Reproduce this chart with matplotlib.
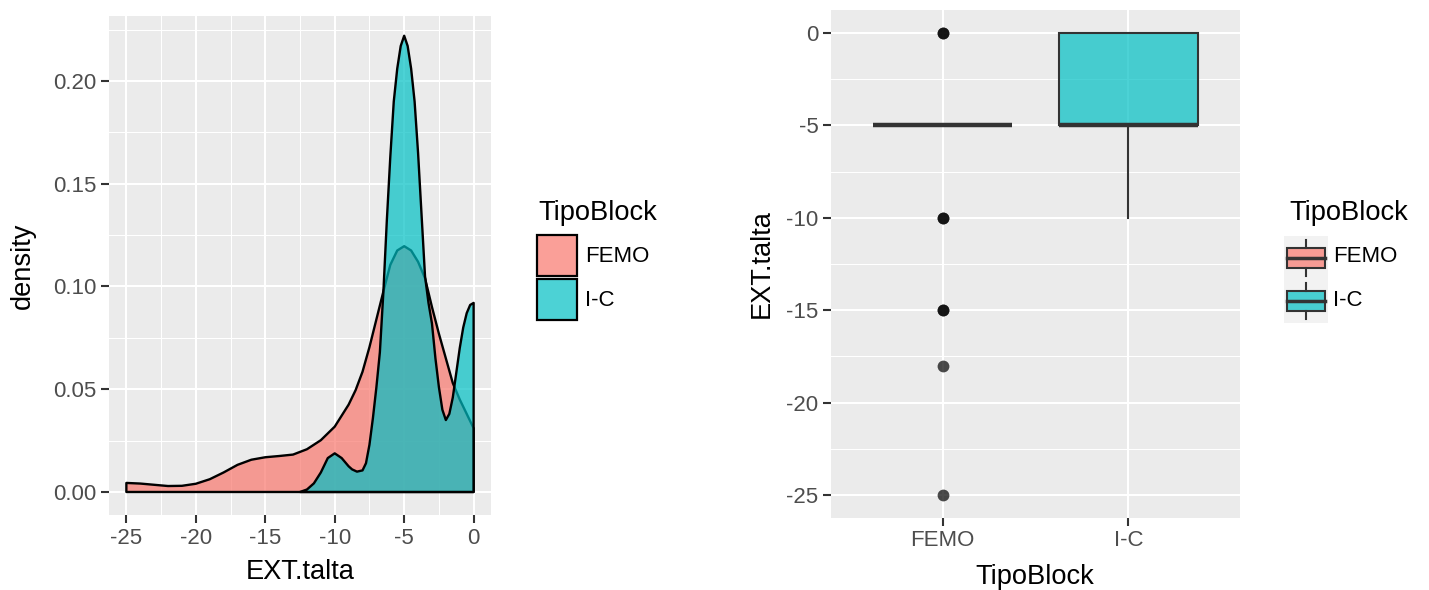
import numpy as np
import matplotlib
matplotlib.use('Agg')
import matplotlib.pyplot as plt
from matplotlib.patches import Rectangle
from matplotlib.lines import Line2D

plt.rcParams['font.family'] = ['Liberation Sans', 'DejaVu Sans']

# ---- data ----
groups = ['FEMO', 'I-C']
colors = ['#F8766D', '#00BFC4']

# density curves (EXT.talta vs density)
femo_x = [-25, -24, -23, -22, -21, -20, -19, -18, -17, -16, -15, -14, -13, -12,
          -11, -10, -9, -8.5, -8, -7.5, -7, -6.5, -6, -5.5, -5, -4.5, -4, -3.5,
          -3, -2.5, -2, -1.5, -1, -0.5, 0]
femo_y = [0.0044, 0.0041, 0.0035, 0.0029, 0.0030, 0.0040, 0.0062, 0.0095, 0.0132,
          0.0157, 0.0169, 0.0175, 0.0182, 0.0208, 0.0252, 0.0318, 0.0425, 0.0495,
          0.0585, 0.0705, 0.0840, 0.0975, 0.1105, 0.1175, 0.1196, 0.1175, 0.1120,
          0.1040, 0.0900, 0.0770, 0.0650, 0.0530, 0.0450, 0.0380, 0.0310]

ic_x = [-12.5, -12, -11.5, -11, -10.5, -10, -9.5, -9, -8.75, -8.4, -8, -7.75, -7.5,
        -7.25, -7, -6.75, -6.5, -6.25, -6, -5.75, -5.5, -5.25, -5, -4.75, -4.5,
        -4.25, -4, -3.75, -3.5, -3.25, -3, -2.75, -2.5, -2.25, -2, -1.75, -1.5,
        -1.25, -1, -0.75, -0.5, -0.25, 0]
ic_y = [0.0, 0.0012, 0.0042, 0.0095, 0.0165, 0.0188, 0.0165, 0.0125, 0.0110, 0.0099,
        0.0105, 0.0140, 0.0230, 0.0360, 0.0510, 0.0680, 0.0970, 0.1320, 0.1630,
        0.1900, 0.2060, 0.2170, 0.2220, 0.2170, 0.2060, 0.1900, 0.1650, 0.1350,
        0.1050, 0.0920, 0.0820, 0.0650, 0.0510, 0.0400, 0.0350, 0.0380, 0.0460,
        0.0580, 0.0700, 0.0800, 0.0870, 0.0910, 0.0920]

# boxplot stats
femo_box = dict(q1=-5, med=-5, q3=-5, whislo=-5, whishi=-5,
                fliers=[0, 0, -10, -10, -15, -15, -18, -25])
ic_box = dict(q1=-5, med=-5, q3=0, whislo=-10, whishi=0, fliers=[])

dens_xticks = [-25, -20, -15, -10, -5, 0]
dens_xlabels = ['-25', '-20', '-15', '-10', '-5', '0']
dens_yticks = [0.00, 0.05, 0.10, 0.15, 0.20]
dens_ylabels = ['0.00', '0.05', '0.10', '0.15', '0.20']
box_yticks = [-25, -20, -15, -10, -5, 0]
box_ylabels = ['-25', '-20', '-15', '-10', '-5', '0']

W, H = 1429, 590
ALPHA = 0.7
TICK_FS = 16
TITLE_FS = 19.6


def fx(p):
    return p / W


def fy(p):
    return 1 - p / H


def style_panel(ax):
    ax.set_facecolor('#EBEBEB')
    for s in ax.spines.values():
        s.set_visible(False)
    ax.set_axisbelow(True)
    ax.grid(True, which='major', color='white', lw=1.5)
    ax.grid(True, which='minor', color='white', lw=0.75)
    ax.tick_params(which='major', length=6, width=1.5, color='#333333',
                   labelcolor='#4D4D4D', labelsize=TICK_FS, pad=3)
    ax.tick_params(which='minor', length=0)


fig = plt.figure(figsize=(W / 100, H / 100), dpi=100)

# ---- left: density ----
ax1 = fig.add_axes([fx(109), fy(515), 382 / W, 499 / H])
style_panel(ax1)
for xs, ys, c in [(femo_x, femo_y, colors[0]), (ic_x, ic_y, colors[1])]:
    px = np.r_[xs[0], xs, xs[-1]]
    py = np.r_[0, ys, 0]
    ax1.fill(px, py, facecolor=matplotlib.colors.to_rgba(c, ALPHA),
             edgecolor='black', lw=1.7, joinstyle='round')
ax1.set_xlim(-26.25, 1.25)
ax1.set_ylim(-0.0112, 0.2316)
ax1.set_xticks(dens_xticks)
ax1.set_xticklabels(dens_xlabels)
ax1.set_xticks([-22.5, -17.5, -12.5, -7.5, -2.5], minor=True)
ax1.set_yticks(dens_yticks)
ax1.set_yticklabels(dens_ylabels)
ax1.set_yticks([0.025, 0.075, 0.125, 0.175, 0.225], minor=True)
ax1.set_xlabel('EXT.talta', fontsize=TITLE_FS, va='center')
ax1.xaxis.set_label_coords(0.5, -0.115)
ax1.set_ylabel('density', fontsize=TITLE_FS, va='center')
ax1.yaxis.set_label_coords(-0.225, 0.5)

# ---- right: boxplot ----
ax2 = fig.add_axes([fx(831), fy(518), 409 / W, 508 / H])
style_panel(ax2)
bp = ax2.bxp([femo_box, ic_box], positions=[1, 2], widths=0.75, patch_artist=True,
             showcaps=False,
             boxprops=dict(edgecolor='#333333', lw=1.5),
             medianprops=dict(color='#333333', lw=3.2, solid_capstyle='butt'),
             whiskerprops=dict(color='#333333', lw=1.5),
             flierprops=dict(marker='o', markerfacecolor='black', markeredgecolor='none',
                             markersize=8.5, alpha=ALPHA))
for patch, c in zip(bp['boxes'], colors):
    patch.set_facecolor(matplotlib.colors.to_rgba(c, ALPHA))
ax2.set_xlim(0.4, 2.6)
ax2.set_ylim(-26.25, 1.25)
ax2.set_xticks([1, 2])
ax2.set_xticklabels(groups)
ax2.set_yticks(box_yticks)
ax2.set_yticklabels(box_ylabels)
ax2.set_yticks([-22.5, -17.5, -12.5, -7.5, -2.5], minor=True)
ax2.set_xlabel('TipoBlock', fontsize=TITLE_FS, va='center')
ax2.xaxis.set_label_coords(0.499, -0.116)
ax2.set_ylabel('EXT.talta', fontsize=TITLE_FS, va='center')
ax2.yaxis.set_label_coords(-0.169, 0.5)

# ---- legends ----
fig.text(fx(538), fy(213), 'TipoBlock', fontsize=TITLE_FS, va='center', ha='left')
fig.text(fx(1289), fy(213), 'TipoBlock', fontsize=TITLE_FS, va='center', ha='left')

key_tops = [235, 279]
label_y = [257, 300]
for i, g in enumerate(groups):
    fig.add_artist(Rectangle((fx(537), fy(key_tops[i] + 41)), 40 / W, 41 / H,
                             transform=fig.transFigure,
                             facecolor=matplotlib.colors.to_rgba(colors[i], ALPHA),
                             edgecolor='black', lw=1.6))
    fig.text(fx(585), fy(label_y[i]), g, fontsize=TICK_FS, va='center', ha='left')

    # boxplot key
    cy = label_y[i] + 1
    fig.add_artist(Rectangle((fx(1284), fy(cy + 22)), 44 / W, 44 / H,
                             transform=fig.transFigure, facecolor='#F2F2F2',
                             edgecolor='none'))
    for y0, y1 in [(cy - 18, cy - 10), (cy + 10, cy + 18)]:
        fig.add_artist(Line2D([fx(1306), fx(1306)], [fy(y0), fy(y1)],
                              transform=fig.transFigure, color='#333333', lw=1.5))
    fig.add_artist(Rectangle((fx(1287), fy(cy + 10)), 38 / W, 20 / H,
                             transform=fig.transFigure,
                             facecolor=matplotlib.colors.to_rgba(colors[i], ALPHA),
                             edgecolor='#333333', lw=1.5))
    fig.add_artist(Line2D([fx(1287), fx(1325)], [fy(cy), fy(cy)],
                          transform=fig.transFigure, color='#333333', lw=2.5))
    fig.text(fx(1333), fy(label_y[i]), g, fontsize=TICK_FS, va='center', ha='left')

fig.savefig('out.png', dpi=100)
